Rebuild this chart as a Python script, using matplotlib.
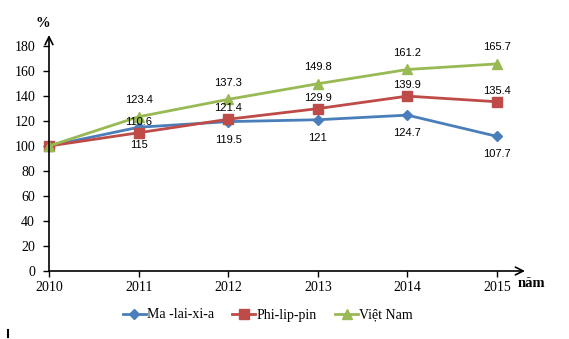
import matplotlib
matplotlib.use("Agg")
import matplotlib.pyplot as plt

years = [2010, 2011, 2012, 2013, 2014, 2015]
malaysia = [100, 115, 119.5, 121, 124.7, 107.7]
philippines = [100, 110.6, 121.4, 129.9, 139.9, 135.4]
vietnam = [100, 123.4, 137.3, 149.8, 161.2, 165.7]
series_names = ["Ma -lai-xi-a", "Phi-lip-pin", "Việt Nam"]
y_ticks = [0, 20, 40, 60, 80, 100, 120, 140, 160, 180]

W, H = 569, 339
fig = plt.figure(figsize=(W / 100, H / 100), dpi=100)
left, right, bottom, top = 49, 525, 271, 35
ax = fig.add_axes([left / W, 1 - bottom / H, (right - left) / W, (bottom - top) / H])

x_step = (497 - 49) / 5.0
ax.set_xlim(2010, 2010 + (right - left) / x_step)
ax.set_ylim(0, (bottom - top) / 1.25)

blue, red, green = "#4a7ebb", "#be4b48", "#98b954"
ax.plot(years, malaysia, color=blue, lw=2, marker="D", ms=5, label=series_names[0], clip_on=False, zorder=3)
ax.plot(years, philippines, color=red, lw=2, marker="s", ms=6.5, label=series_names[1], clip_on=False, zorder=3)
ax.plot(years, vietnam, color=green, lw=2, marker="^", ms=7, label=series_names[2], clip_on=False, zorder=3)

lab_font = dict(family="Liberation Sans", size=8, color="black", ha="center", va="center")
for x, m, p, v in list(zip(years, malaysia, philippines, vietnam))[1:]:
    ax.annotate(f"{v:g}", (x, v), xytext=(0, 12), textcoords="offset points", **lab_font)
    ax.annotate(f"{p:g}", (x, p), xytext=(0, 8), textcoords="offset points", **lab_font)
    ax.annotate(f"{m:g}", (x, m), xytext=(0, -13), textcoords="offset points", **lab_font)

for s in ["top", "right", "left", "bottom"]:
    ax.spines[s].set_visible(False)

# axes drawn as arrows
arrow = dict(arrowstyle="->", lw=1.2, color="black", mutation_scale=14, shrinkA=0, shrinkB=0)
ax.annotate("", xy=(1, 0), xytext=(0, 0), xycoords="axes fraction", arrowprops=arrow, annotation_clip=False)
ax.annotate("", xy=(0, 1), xytext=(0, 0), xycoords="axes fraction", arrowprops=arrow, annotation_clip=False)

ax.set_xticks(years)
ax.set_yticks(y_ticks)
ax.tick_params(axis="both", direction="out", length=4, width=1, labelsize=10)
ax.tick_params(axis="y", pad=6)
ax.tick_params(axis="x", pad=3)
for t in ax.get_xticklabels() + ax.get_yticklabels():
    t.set_family("Liberation Serif")

ax.text(-0.013, 1.05, "%", transform=ax.transAxes, ha="center", va="center",
        family="Liberation Serif", fontweight="bold", fontsize=10.5)
ax.text(0.985, -0.051, "năm", transform=ax.transAxes, ha="left", va="center",
        family="Liberation Serif", fontweight="bold", fontsize=10.5)

fig.legend(loc="center", bbox_to_anchor=(268 / W, 1 - 315 / H), ncol=3, frameon=False,
           prop=dict(family="Liberation Serif", size=10), handlelength=1.65,
           columnspacing=1.3, handletextpad=0.1)

fig.add_artist(plt.Line2D([8 / W, 8 / W], [1 - 330 / H, 1 - 337 / H], color="black", lw=1.5))

fig.savefig("out.png", dpi=100)
